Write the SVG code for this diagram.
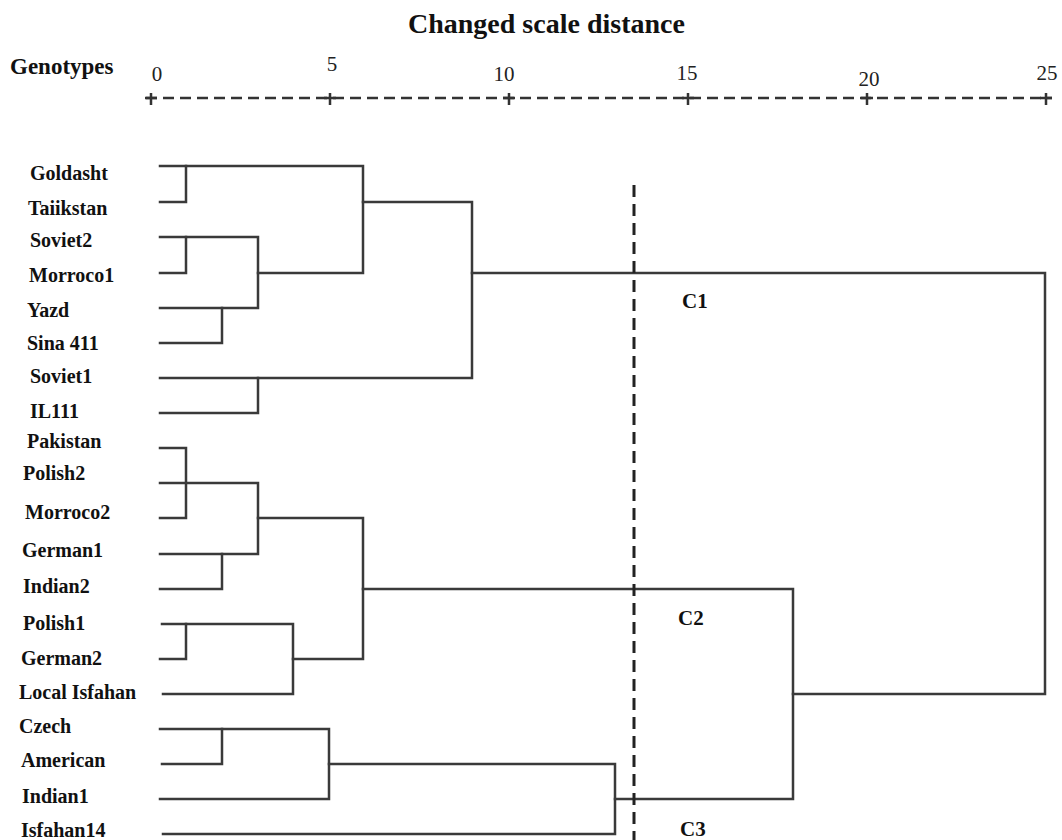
<svg xmlns="http://www.w3.org/2000/svg" width="1062" height="840" viewBox="0 0 1062 840">
<style>
.lbl{font-family:"Liberation Serif","Times New Roman",serif;font-weight:bold;font-size:20px;fill:#111}
.num{font-family:"Liberation Serif","Times New Roman",serif;font-size:21px;fill:#222;text-anchor:middle}
.ttl{font-family:"Liberation Serif","Times New Roman",serif;font-weight:bold;font-size:28px;fill:#111}
.br{fill:none;stroke:#3a3a3a;stroke-width:2.5;stroke-linecap:square;stroke-linejoin:miter}
.axis{fill:none;stroke:#333;stroke-width:2.5;stroke-dasharray:11 6}
.tick{fill:none;stroke:#333;stroke-width:2.5}
.cut{fill:none;stroke:#222;stroke-width:3;stroke-dasharray:12 7}
</style>
<rect width="1062" height="840" fill="#ffffff"/>
<g id="header">
<text class="ttl" x="408" y="33">Changed scale distance</text>
<text class="lbl" x="10" y="74" style="font-size:23px">Genotypes</text>
<text class="num" x="157" y="81">0</text>
<text class="num" x="332" y="71">5</text>
<text class="num" x="504" y="81">10</text>
<text class="num" x="687" y="80">15</text>
<text class="num" x="869" y="86">20</text>
<text class="num" x="1047" y="80">25</text>
</g>
<g id="axis">
<line class="axis" x1="146" y1="98" x2="1052" y2="98"/>
<path class="tick" d="M145 98H157M151 93V105M324 98H336M330 93V105M503 98H515M509 93V105M682 98H694M688 93V105M861 98H873M867 93V105M1040 98H1052M1046 93V105"/>
</g>
<g id="leaves">
<g id="n-goldasht"><text class="lbl" x="30" y="180">Goldasht</text></g>
<g id="n-taiikstan"><text class="lbl" x="28" y="215">Taiikstan</text></g>
<g id="n-soviet2"><text class="lbl" x="30" y="247">Soviet2</text></g>
<g id="n-morroco1"><text class="lbl" x="29" y="282">Morroco1</text></g>
<g id="n-yazd"><text class="lbl" x="27" y="317">Yazd</text></g>
<g id="n-sina411"><text class="lbl" x="27" y="350">Sina 411</text></g>
<g id="n-soviet1"><text class="lbl" x="30" y="383">Soviet1</text></g>
<g id="n-il111"><text class="lbl" x="30" y="418">IL111</text></g>
<g id="n-pakistan"><text class="lbl" x="27" y="448">Pakistan</text></g>
<g id="n-polish2"><text class="lbl" x="23" y="480">Polish2</text></g>
<g id="n-morroco2"><text class="lbl" x="25" y="519">Morroco2</text></g>
<g id="n-german1"><text class="lbl" x="22" y="557">German1</text></g>
<g id="n-indian2"><text class="lbl" x="23" y="593">Indian2</text></g>
<g id="n-polish1"><text class="lbl" x="23" y="630">Polish1</text></g>
<g id="n-german2"><text class="lbl" x="21" y="665">German2</text></g>
<g id="n-localisfahan"><text class="lbl" x="19" y="699">Local Isfahan</text></g>
<g id="n-czech"><text class="lbl" x="19" y="733">Czech</text></g>
<g id="n-american"><text class="lbl" x="21" y="767">American</text></g>
<g id="n-indian1"><text class="lbl" x="22" y="803">Indian1</text></g>
<g id="n-isfahan14"><text class="lbl" x="21" y="837">Isfahan14</text></g>
</g>
<g id="clusters">
<g id="c1"><text class="lbl" x="682" y="308" style="font-size:21px">C1</text></g>
<g id="c2"><text class="lbl" x="678" y="625" style="font-size:21px">C2</text></g>
<g id="c3"><text class="lbl" x="680" y="836" style="font-size:21px">C3</text></g>
</g>
<g id="connectors">
<!-- cluster 1 -->
<path class="br" d="M160 166H363V273H258"/>
<path class="br" d="M160 202H186V166"/>
<path class="br" d="M160 237H258V308H160"/>
<path class="br" d="M160 273H186V237"/>
<path class="br" d="M160 343H222V308"/>
<path class="br" d="M363 202H472V378H160"/>
<path class="br" d="M160 413H258V378"/>
<path class="br" d="M472 273H1045V694H793"/>
<!-- cluster 2 -->
<path class="br" d="M160 448H186V518H160"/>
<path class="br" d="M160 483H258V554H160"/>
<path class="br" d="M160 589H222V554"/>
<path class="br" d="M258 518H363V659H293"/>
<path class="br" d="M363 589H793V799H615"/>
<path class="br" d="M162 624H293V694H163"/>
<path class="br" d="M160 659H186V624"/>
<!-- cluster 3 -->
<path class="br" d="M160 729H329V799H160"/>
<path class="br" d="M162 764H222V729"/>
<path class="br" d="M329 764H615V834H163"/>
<!-- cut line -->
<line class="cut" x1="634" y1="185" x2="634" y2="840"/>
</g>
</svg>
